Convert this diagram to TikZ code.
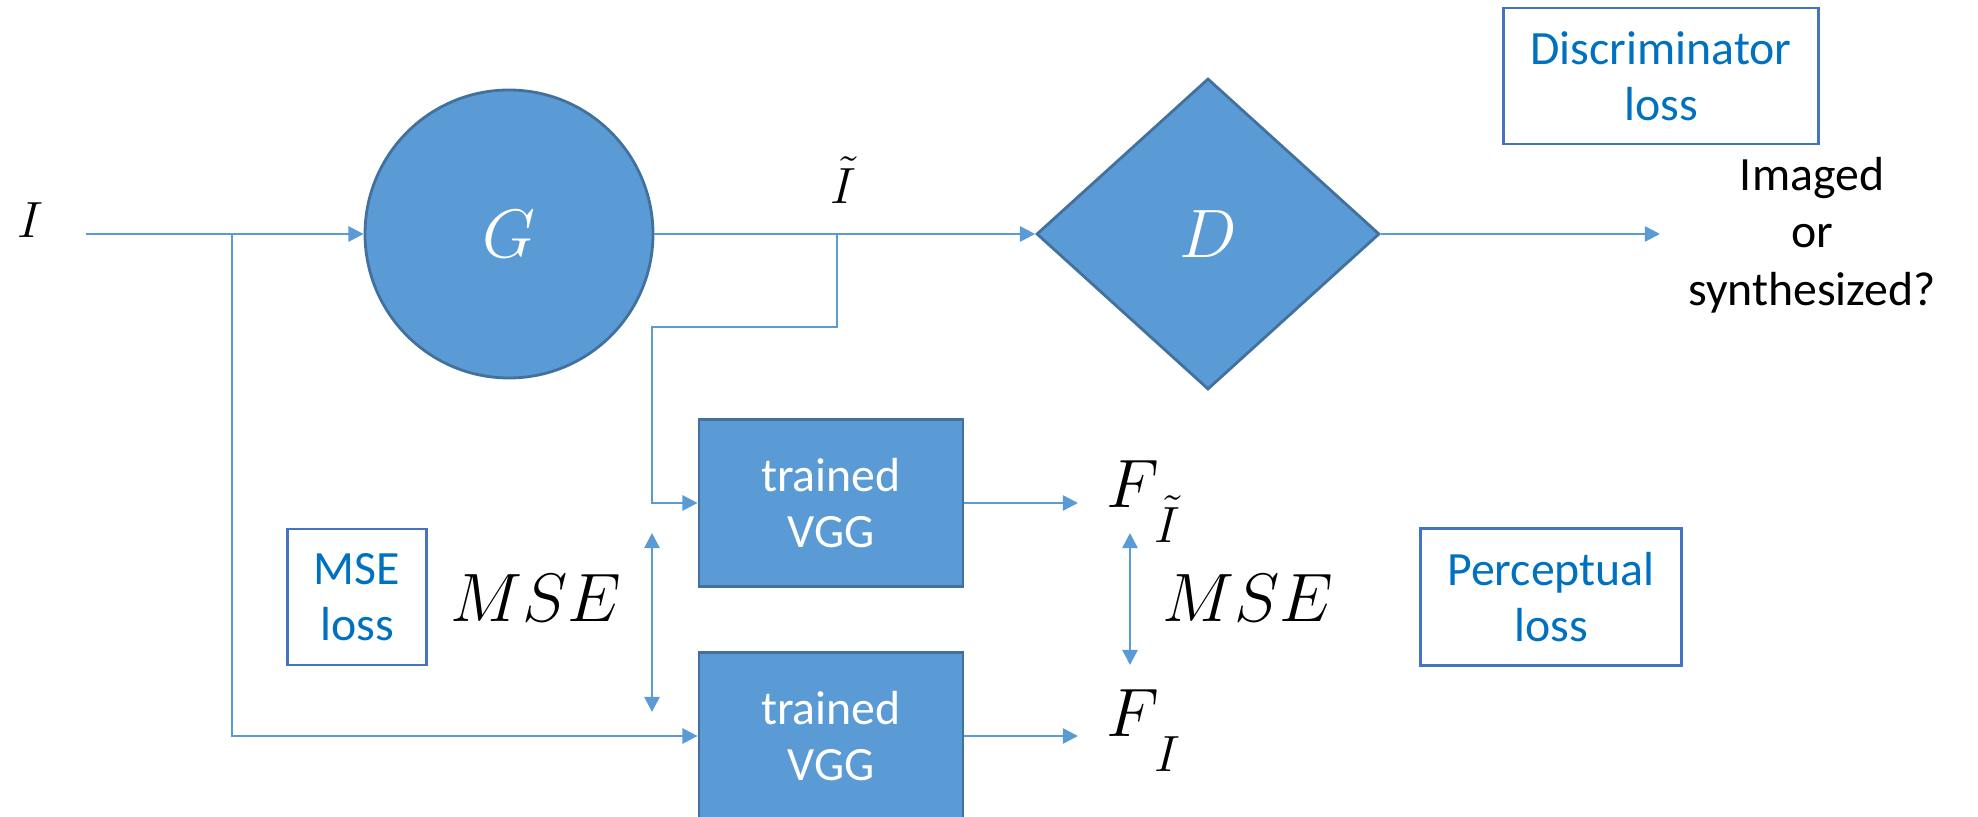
\RequirePackage{fix-cm}
\documentclass[tikz,border=0pt]{standalone}
\usepackage{fontspec}
\setmainfont{Carlito}
\usetikzlibrary{shapes.geometric,arrows.meta}
\definecolor{lineblue}{HTML}{5B9BD5}
\definecolor{fillblue}{HTML}{5B9BD5}
\definecolor{edgeblue}{HTML}{41719C}
\definecolor{lossedge}{HTML}{4472C4}
\definecolor{losstext}{HTML}{0070C0}
\newcommand\fsM{\fontsize{19.5}{23}\selectfont}
\newcommand\fsI{\fontsize{14.5}{17}\selectfont}
\newcommand\fsT{\fontsize{13.6}{16}\selectfont}
\newcommand\fsQ{\fontsize{13.6}{16.3}\selectfont}
\begin{document}
\begin{tikzpicture}[x=0.1mm,y=-0.1mm,
  conn/.style={draw=lineblue, line width=0.7pt},
  arr/.style={conn, -{Triangle[length=4.3pt,width=4.3pt]}},
  darr/.style={conn, {Triangle[length=4.3pt,width=4.3pt]}-{Triangle[length=4.3pt,width=4.3pt]}},
  blk/.style={fill=fillblue, draw=edgeblue, line width=0.8pt},
  loss/.style={draw=lossedge, line width=0.8pt, text=losstext, align=center, font=\fsT, inner sep=0}]
\useasboundingbox (0,0) rectangle (1978,817);

% main blocks
\node[blk, circle, minimum size=28.8mm, inner sep=0, text=white] (G) at (509,234) {\fsM $G$};
\node[blk, diamond, minimum width=34.3mm, minimum height=31.1mm, inner sep=0, text=white] (D) at (1208,234) {\fsM $D$};
\node[blk, minimum width=26.4mm, minimum height=16.7mm, text=white, align=center, font=\fsT] (V1) at (831,503) {trained\\VGG};
\node[blk, minimum width=26.4mm, minimum height=16.7mm, text=white, align=center, font=\fsT] (V2) at (831,736) {trained\\VGG};

% loss boxes
\node[loss, minimum width=31.5mm, minimum height=13.6mm] (DL) at (1661,76) {Discriminator\\loss};
\node[loss, minimum width=13.9mm, minimum height=13.6mm] (ML) at (357,597) {MSE\\loss};
\node[loss, minimum width=26.1mm, minimum height=13.7mm] (PL) at (1551,597) {Perceptual\\loss};

% labels
\node[font=\fsI] (Ilab) at (31,220) {$I$};
\node[font=\fsI] (It) at (843,180) {$\tilde{I}$};
\node[font=\fsM] (mse1) at (536,598) {$MSE$};
\node[font=\fsM] (mse2) at (1248,598) {$MSE$};
\node[anchor=base west, inner sep=0] (FT) at (1106,508) {\fsM$F$\kern-1.5pt\raisebox{-9.7pt}{\fsI$\tilde{I}$}};
\node[anchor=base west, inner sep=0] (FI) at (1106,737) {\fsM$F$\kern-1.5pt\raisebox{-9.7pt}{\fsI$I$}};
\node[align=center, font=\fsQ] (res) at (1812,235) {Imaged\\or\\synthesized?};

% coordinates
\coordinate (in) at (86,234);
\coordinate (b1) at (232,234);
\coordinate (b2) at (837,234);
\coordinate (k) at (652,327);
\coordinate (o) at (1660,234);
\coordinate (a1) at (1078,503);
\coordinate (a2) at (1078,736);
\coordinate (m1t) at (652,533);
\coordinate (m1b) at (652,712);
\coordinate (m2t) at (1130,533);
\coordinate (m2b) at (1130,665);

% connectors
\draw[arr] (in) -- (G.west);
\draw[arr] (b1) |- (V2.west);
\draw[arr] (G.east) -- (D.west);
\draw[arr] (b2) |- (k) |- (V1.west);
\draw[arr] (D.east) -- (o);
\draw[arr] (V1.east) -- (a1);
\draw[arr] (V2.east) -- (a2);
\draw[darr] (m1t) -- (m1b);
\draw[darr] (m2t) -- (m2b);
\end{tikzpicture}
\end{document}
